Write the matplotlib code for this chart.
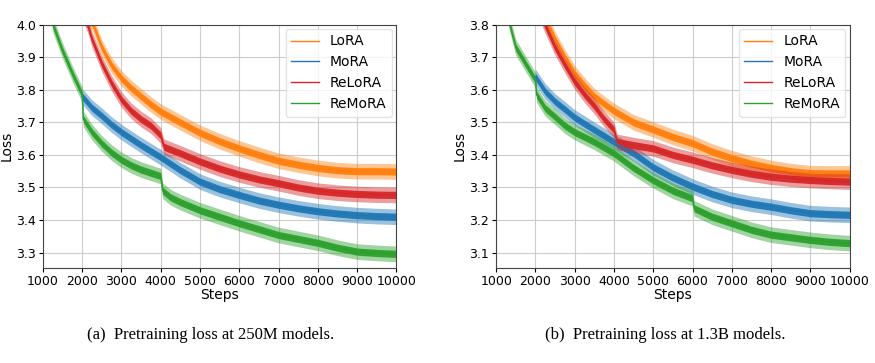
import matplotlib
matplotlib.use("Agg")
import matplotlib.pyplot as plt
import numpy as np

# ---------------- data: panel (a) 250M ----------------
a_lora_steps = [1900, 2280, 2500, 2750, 3000, 3250, 3500, 3750, 4000, 4500, 5000, 5500, 6000, 6500, 7000, 7500, 8000, 8500, 9000, 9500, 10000]
a_lora_vals = [4.08, 4.00, 3.93, 3.875, 3.835, 3.805, 3.78, 3.755, 3.733, 3.70, 3.668, 3.642, 3.62, 3.60, 3.582, 3.57, 3.56, 3.553, 3.55, 3.55, 3.549]

a_mora_steps = [2000, 2250, 2500, 2750, 3000, 3250, 3500, 4000, 4500, 5000, 5500, 6000, 6500, 7000, 7500, 8000, 8500, 9000, 9500, 10000]
a_mora_vals = [3.78, 3.745, 3.72, 3.693, 3.67, 3.65, 3.63, 3.593, 3.553, 3.518, 3.495, 3.477, 3.46, 3.447, 3.436, 3.427, 3.42, 3.415, 3.412, 3.41]

a_relora_steps = [1850, 2140, 2250, 2500, 2750, 3000, 3250, 3500, 3750, 4000, 4080, 4500, 5000, 5500, 6000, 6500, 7000, 7500, 8000, 8500, 9000, 9500, 10000]
a_relora_vals = [4.08, 4.00, 3.955, 3.88, 3.82, 3.77, 3.735, 3.71, 3.69, 3.66, 3.625, 3.605, 3.58, 3.558, 3.54, 3.525, 3.513, 3.50, 3.49, 3.484, 3.48, 3.478, 3.477]

a_remora_steps = [1000, 1255, 1500, 1750, 2000, 2030, 2250, 2500, 2750, 3000, 3250, 3500, 3750, 4000, 4050, 4250, 4500, 5000, 5500, 6000, 6500, 7000, 7500, 8000, 8500, 9000, 9500, 10000]
a_remora_vals = [4.25, 4.00, 3.92, 3.85, 3.785, 3.71, 3.67, 3.635, 3.607, 3.585, 3.568, 3.555, 3.545, 3.535, 3.49, 3.47, 3.455, 3.43, 3.41, 3.39, 3.372, 3.354, 3.342, 3.33, 3.315, 3.303, 3.299, 3.296]

# ---------------- data: panel (b) 1.3B ----------------
b_lora_steps = [1900, 2324, 2500, 2750, 3000, 3250, 3500, 3750, 4000, 4500, 5000, 5500, 6000, 6500, 7000, 7500, 8000, 8500, 9000, 9500, 10000]
b_lora_vals = [3.92, 3.80, 3.755, 3.70, 3.65, 3.613, 3.58, 3.557, 3.535, 3.50, 3.478, 3.455, 3.436, 3.41, 3.39, 3.373, 3.36, 3.35, 3.344, 3.343, 3.343]

b_mora_steps = [2000, 2250, 2500, 2750, 3000, 3500, 4000, 4500, 5000, 5500, 6000, 6500, 7000, 7500, 8000, 8500, 9000, 9500, 10000]
b_mora_vals = [3.64, 3.595, 3.564, 3.54, 3.515, 3.477, 3.44, 3.405, 3.362, 3.33, 3.303, 3.28, 3.262, 3.25, 3.241, 3.23, 3.221, 3.218, 3.216]

b_relora_steps = [1900, 2240, 2500, 2750, 3000, 3250, 3500, 3750, 4000, 4080, 4500, 5000, 5500, 6000, 6500, 7000, 7500, 8000, 8500, 9000, 9500, 10000]
b_relora_vals = [3.90, 3.80, 3.73, 3.676, 3.625, 3.585, 3.55, 3.51, 3.477, 3.44, 3.43, 3.42, 3.40, 3.385, 3.368, 3.354, 3.342, 3.333, 3.327, 3.323, 3.32, 3.318]

b_remora_steps = [1000, 1349, 1500, 1750, 2000, 2030, 2250, 2500, 2750, 3000, 3500, 4000, 4500, 5000, 5500, 6000, 6040, 6500, 7000, 7500, 8000, 8500, 9000, 9500, 10000]
b_remora_vals = [4.00, 3.80, 3.73, 3.68, 3.63, 3.585, 3.543, 3.517, 3.49, 3.47, 3.44, 3.405, 3.36, 3.322, 3.29, 3.267, 3.236, 3.21, 3.19, 3.17, 3.155, 3.147, 3.139, 3.133, 3.129]

# visible noise ribbon half-widths: outer spikes, dense core
noise_outer = 0.024
noise_core = 0.011

labels = ["LoRA", "MoRA", "ReLoRA", "ReMoRA"]
colors = ["#ff7f0e", "#1f77b4", "#d62728", "#2ca02c"]

x_ticks = [1000, 2000, 3000, 4000, 5000, 6000, 7000, 8000, 9000, 10000]
a_yticks = [3.3, 3.4, 3.5, 3.6, 3.7, 3.8, 3.9, 4.0]
b_yticks = [3.1, 3.2, 3.3, 3.4, 3.5, 3.6, 3.7, 3.8]
captions = ["(a)  Pretraining loss at 250M models.", "(b)  Pretraining loss at 1.3B models."]

panels = [
    dict(series=[(a_lora_steps, a_lora_vals), (a_mora_steps, a_mora_vals),
                 (a_relora_steps, a_relora_vals), (a_remora_steps, a_remora_vals)],
         ylim=(3.253, 4.0), yticks=a_yticks, rect=[0.049, 0.262, 0.404, 0.670],
         cap_x=0.241),
    dict(series=[(b_lora_steps, b_lora_vals), (b_mora_steps, b_mora_vals),
                 (b_relora_steps, b_relora_vals), (b_remora_steps, b_remora_vals)],
         ylim=(3.053, 3.8), yticks=b_yticks, rect=[0.567, 0.262, 0.404, 0.670],
         cap_x=0.760),
]

fig = plt.figure(figsize=(8.75, 3.63), dpi=100)

for i, p in enumerate(panels):
    ax = fig.add_axes(p["rect"])
    for (st, vl), lab, col in zip(p["series"], labels, colors):
        st = np.asarray(st, dtype=float)
        vl = np.asarray(vl, dtype=float)
        ax.fill_between(st, vl - noise_outer, vl + noise_outer,
                        color=col, alpha=0.45, linewidth=0)
        ax.fill_between(st, vl - noise_core, vl + noise_core,
                        color=col, alpha=0.95, linewidth=0)
        ax.plot(st, vl, color=col, lw=1.0, label=lab)
    ax.set_xlim(1000, 10000)
    ax.set_ylim(*p["ylim"])
    ax.set_xticks(x_ticks)
    ax.set_yticks(p["yticks"])
    ax.set_yticklabels([f"{v:.1f}" for v in p["yticks"]])
    ax.tick_params(labelsize=9, length=3, pad=2)
    ax.grid(True, color="#cccccc", lw=0.8)
    ax.set_axisbelow(True)
    for s in ax.spines.values():
        s.set_color("#444444")
        s.set_linewidth(0.8)
    ax.set_xlabel("Steps", fontsize=10, labelpad=0)
    ax.set_ylabel("Loss", fontsize=10, labelpad=2)
    ax.legend(loc="upper right", fontsize=10, frameon=True, borderaxespad=0.3,
              handlelength=2.0, framealpha=0.8, edgecolor="#dddddd")
    fig.text(p["cap_x"], 1 - 335 / 363, captions[i], ha="center", va="center",
             fontsize=12, family="Liberation Serif")

fig.savefig("out.png", dpi=100)
